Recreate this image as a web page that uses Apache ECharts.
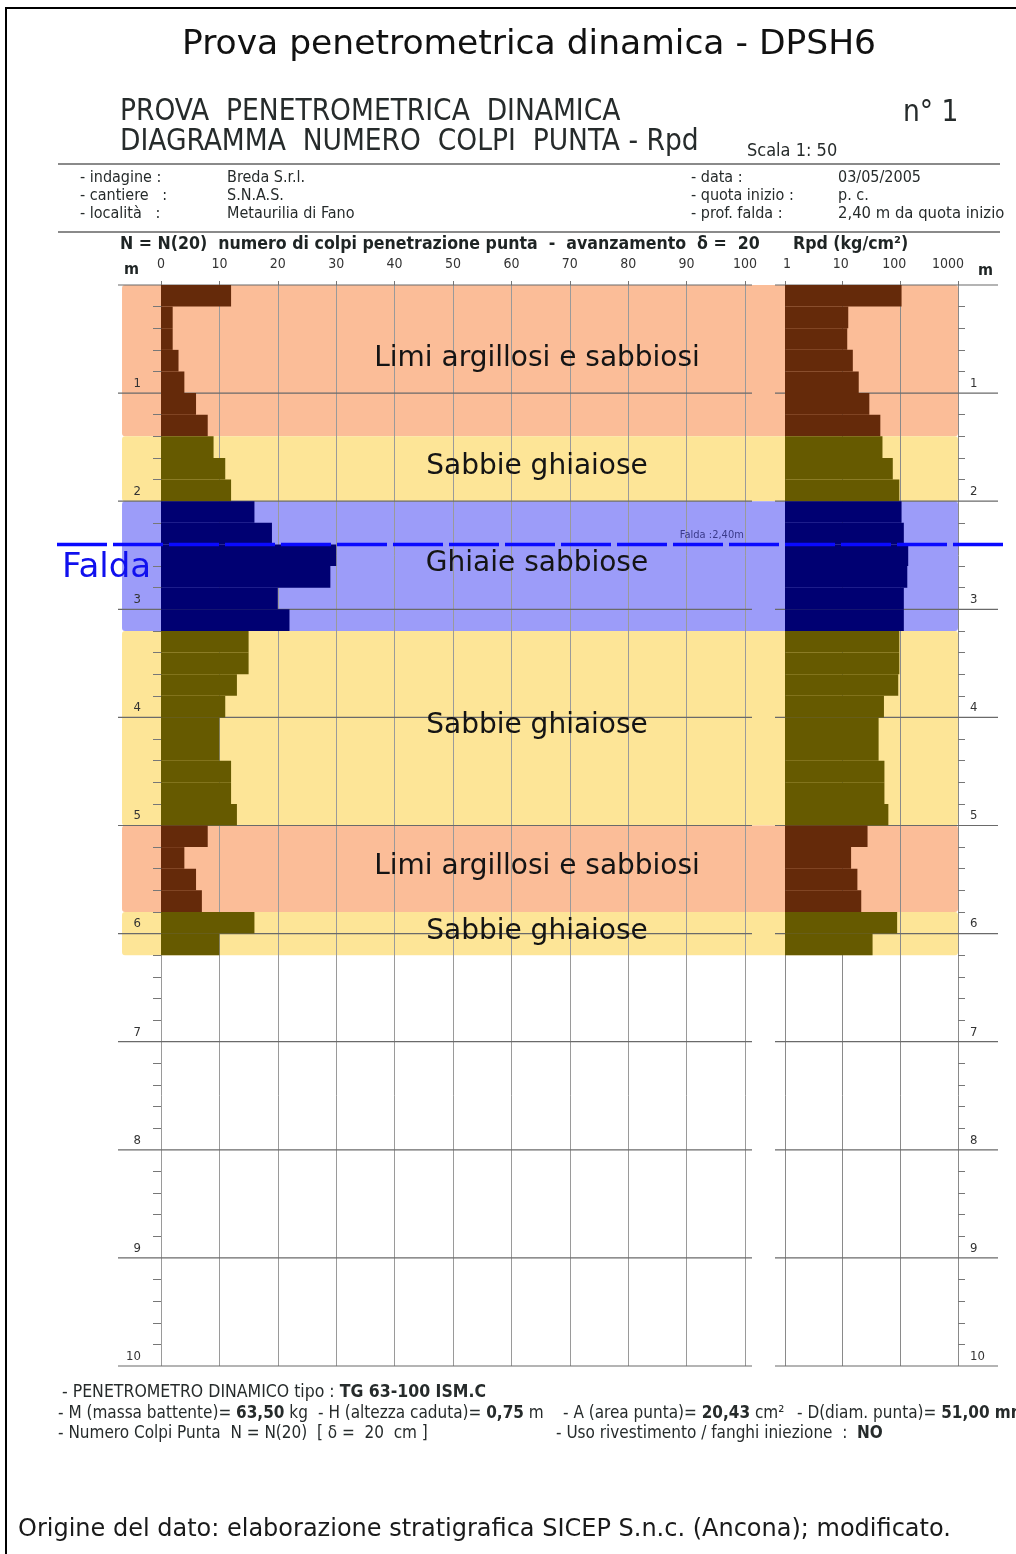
<!DOCTYPE html>
<html><head><meta charset="utf-8">
<script src="https://cdn.jsdelivr.net/npm/echarts@6/dist/echarts.min.js"></script>
<style>html,body{margin:0;padding:0;background:#fff}#c{width:1016px;height:1554px}</style>
</head><body><div id="c"></div>
<script>
// ---- data ----
const depthFrom = [0.0,0.2,0.4,0.6,0.8,1.0,1.2,1.4,1.6,1.8,2.0,2.2,2.4,2.6,2.8,3.0,3.2,3.4,3.6,3.8,4.0,4.2,4.4,4.6,4.8,5.0,5.2,5.4,5.6,5.8,6.0];
const depthTo   = [0.2,0.4,0.6,0.8,1.0,1.2,1.4,1.6,1.8,2.0,2.2,2.4,2.6,2.8,3.0,3.2,3.4,3.6,3.8,4.0,4.2,4.4,4.6,4.8,5.0,5.2,5.4,5.6,5.8,6.0,6.2];
const n20 = [12,2,2,3,4,6,8,9,11,12,16,19,30,29,20,22,15,15,13,11,10,10,12,12,13,8,4,6,7,16,10];
const rpd = [105,12.5,12,15,19,29,45,49,74,96,105,115,137,132,115,115,96,96,92,52,42,42,53,53,62,27,14,18,21,88,33];
const layerFrom = [0.0,1.4,2.0,3.2,5.0,5.8];
const layerTo   = [1.4,2.0,3.2,5.0,5.8,6.2];
const layerName = ["Limi argillosi e sabbiosi","Sabbie ghiaiose","Ghiaie sabbiose","Sabbie ghiaiose","Limi argillosi e sabbiosi","Sabbie ghiaiose"];
const layerKind = ["limo","sabbia","ghiaia","sabbia","limo","sabbia"];
const nTickLabels = ["0","10","20","30","40","50","60","70","80","90","100"];
const rpdTickLabels = ["1","10","100","1000"];
const depthTickLabels = ["1","2","3","4","5","6","7","8","9","10"];
const meterLines = [0,1,2,3,4,5,6,7,8,9,10];
const faldaDepth = 2.4;

// ---- styles ----
const NARROW = "'Liberation Sans Narrow','DejaVu Sans Condensed','Arial Narrow',sans-serif";
const SANS = "'DejaVu Sans',sans-serif";
const TXT = '#262b2b';
const bandColor = {limo:'#fbbd98', sabbia:'#fde597', ghiaia:'#9c9cf9'};
const barColor = {limo:'#652a0a', sabbia:'#665a00', ghiaia:'#000072'};

function layerOf(d){
  for (let i=0;i<layerFrom.length;i++){ if (d >= layerFrom[i]-1e-6 && d < layerTo[i]-1e-6) return i; }
  return 0;
}
const leftData = depthFrom.map((d,i)=>[d, depthTo[i], n20[i], layerOf(d)]);
const rightData = depthFrom.map((d,i)=>[d, depthTo[i], rpd[i], layerOf(d)]);
const bandData = layerFrom.map((d,i)=>[d, layerTo[i], i]);

const chart = echarts.init(document.getElementById('c'), null, {renderer:'canvas'});

function barRender(base){
  return function(params, api){
    const li = api.value(3);
    const p0 = api.coord([base, api.value(0)]);
    const p1 = api.coord([api.value(2), api.value(1)]);
    return {type:'rect', shape:{x:p0[0], y:p0[1], width:p1[0]-p0[0], height:p1[1]-p0[1]},
      style:{fill: barColor[layerKind[li]]}};
  };
}
function meterRender(xa, xb, ext0, ext1, color){
  return function(params, api){
    const m = api.value(0);
    const a = api.coord([xa, m]); const b = api.coord([xb, m]);
    return {type:'line', shape:{x1:a[0]-ext0, y1:a[1], x2:b[0]+ext1, y2:b[1]},
      style:{stroke: color, lineWidth: 1.2}};
  };
}

const axisLabelStyle = {fontFamily: NARROW, fontSize: 14, color: '#333'};
const HFONT = '29.5px ' + NARROW;
const IFONT = '16px ' + NARROW;
const BFONT = '17px ' + NARROW;
const BBOLD = 'bold 17px ' + NARROW;

const option = {
  backgroundColor: '#fff',
  animation: false,
  grid: [
    {left:161, right:271, top:285, bottom:188},
    {left:785, right:58, top:285, bottom:188},
    {left:57, right:11, top:285, bottom:188}
  ],
  xAxis: [
    {gridIndex:0, type:'value', position:'top', min:0, max:100, interval:10,
     axisLine:{show:false}, axisTick:{show:true, length:4, inside:false, lineStyle:{color:'#777'}},
     axisLabel:Object.assign({margin:14, formatter:v=>nTickLabels[Math.round(v/10)]}, axisLabelStyle),
     splitLine:{show:true, lineStyle:{color:'#9a9a9a', width:1}}},
    {gridIndex:1, type:'log', logBase:10, position:'top', min:1, max:1000,
     axisLine:{show:false}, axisTick:{show:true, length:4, lineStyle:{color:'#777'}},
     axisLabel:Object.assign({margin:14, align:'right', padding:[0,-6,0,0],
       formatter:v=>rpdTickLabels[Math.round(Math.log10(v))]}, axisLabelStyle),
     splitLine:{show:true, lineStyle:{color:'#8a8a8a', width:1}}},
    {gridIndex:2, type:'value', min:0, max:1, show:false}
  ],
  yAxis: [
    {gridIndex:0, type:'value', inverse:true, min:0, max:10, interval:1,
     axisLine:{show:false}, axisTick:{show:false},
     minorTick:{show:true, splitNumber:5, length:8, lineStyle:{color:'#777'}},
     axisLabel:Object.assign({margin:20, verticalAlign:'bottom', padding:[0,0,3,0],
       formatter:v=>(v===0?'':depthTickLabels[v-1])}, axisLabelStyle, {fontSize:13}),
     splitLine:{show:false}},
    {gridIndex:1, type:'value', inverse:true, min:0, max:10, interval:1, position:'right',
     axisLine:{show:false}, axisTick:{show:false},
     minorTick:{show:true, splitNumber:5, length:7, lineStyle:{color:'#777'}},
     axisLabel:Object.assign({margin:12, verticalAlign:'bottom', padding:[0,0,3,0],
       formatter:v=>(v===0?'':depthTickLabels[v-1])}, axisLabelStyle, {fontSize:13}),
     splitLine:{show:false}},
    {gridIndex:2, type:'value', inverse:true, min:0, max:10, show:false}
  ],
  series: [
    {type:'custom', name:'strati', xAxisIndex:2, yAxisIndex:2, z:-5, clip:false,
     data: bandData, encode:{y:[0,1]},
     renderItem:function(params, api){
       const i = api.value(2);
       const a = api.coord([0.0686, api.value(0)]);
       const b = api.coord([0.9504, api.value(1)]);
       return {type:'rect', shape:{x:a[0], y:a[1], width:b[0]-a[0], height:b[1]-a[1], r:3},
         style:{fill: bandColor[layerKind[i]]}};
     }},
    {type:'custom', name:'metriN', xAxisIndex:0, yAxisIndex:0, z:1, clip:false,
     data: meterLines.map(m=>[m]), encode:{y:0},
     renderItem: meterRender(0, 100, 43, 7, '#6a6a6a')},
    {type:'custom', name:'metriRpd', xAxisIndex:1, yAxisIndex:1, z:1, clip:false,
     data: meterLines.map(m=>[m]), encode:{y:0},
     renderItem: meterRender(1, 1000, 10, 40, '#6a6a6a')},
    {type:'custom', name:'N20', xAxisIndex:0, yAxisIndex:0, z:3,
     data: leftData, encode:{x:2, y:[0,1]}, renderItem: barRender(0)},
    {type:'custom', name:'Rpd', xAxisIndex:1, yAxisIndex:1, z:3,
     data: rightData, encode:{x:2, y:[0,1]}, renderItem: barRender(1)},
    {type:'custom', name:'falda', xAxisIndex:2, yAxisIndex:2, z:6, clip:false,
     data: [[faldaDepth]], encode:{y:0},
     renderItem:function(params, api){
       const a = api.coord([0, api.value(0)]);
       const b = api.coord([1, api.value(0)]);
       const t = api.coord([0.657, api.value(0)]);
       return {type:'group', children:[
         {type:'line', shape:{x1:a[0], y1:a[1], x2:b[0], y2:b[1]},
          style:{stroke:'#0a0aff', lineWidth:3.5, lineDash:[50,6]}},
         {type:'text', x:a[0]+5, y:a[1]+7,
          style:{text:'Falda', fill:'#1010ee', font:'34px '+SANS, textVerticalAlign:'top'}},
         {type:'text', x:t[0], y:t[1]-4,
          style:{text:'Falda :2,40m', fill:'#3a3a8a', font:'11px '+NARROW, textVerticalAlign:'bottom'}}
       ]};
     }},
    {type:'custom', name:'nomiStrati', xAxisIndex:2, yAxisIndex:2, z:7, clip:false,
     data: bandData, encode:{y:[0,1]},
     renderItem:function(params, api){
       const i = api.value(2);
       const a = api.coord([0.0686, api.value(0)]);
       const b = api.coord([0.9504, api.value(1)]);
       return {type:'text', x:(a[0]+b[0])/2 - 3, y:(a[1]+b[1])/2 - 2,
         style:{text: layerName[i], fill:'#141414', font:'28px '+SANS,
           textAlign:'center', textVerticalAlign:'middle'}};
     }}
  ],
  graphic: [
    {type:'rect', shape:{x:6, y:8, width:1030, height:1570}, style:{fill:'none', stroke:'#000', lineWidth:2}, z:100},
    {type:'text', x:529, y:45, style:{text:'Prova penetrometrica dinamica - DPSH6', font:'34.5px '+SANS, fill:'#111', textAlign:'center', textVerticalAlign:'middle'}},
    {type:'text', x:120, y:112, style:{text:'PROVA  PENETROMETRICA  DINAMICA', font:HFONT, fill:TXT, textVerticalAlign:'middle'}},
    {type:'text', x:903, y:113, style:{text:'n° 1', font:HFONT, fill:TXT, textVerticalAlign:'middle'}},
    {type:'text', x:120, y:142, style:{text:'DIAGRAMMA  NUMERO  COLPI  PUNTA - Rpd', font:HFONT, fill:TXT, textVerticalAlign:'middle'}},
    {type:'text', x:747, y:151, style:{text:'Scala 1: 50', font:'18px '+NARROW, fill:TXT, textVerticalAlign:'middle'}},
    {type:'line', shape:{x1:58, y1:164, x2:1000, y2:164}, style:{stroke:'#8a8a8a', lineWidth:2}},
    {type:'text', x:80, y:178, style:{text:'- indagine :', font:IFONT, fill:TXT, textVerticalAlign:'middle'}},
    {type:'text', x:80, y:196, style:{text:'- cantiere   :', font:IFONT, fill:TXT, textVerticalAlign:'middle'}},
    {type:'text', x:80, y:214, style:{text:'- località   :', font:IFONT, fill:TXT, textVerticalAlign:'middle'}},
    {type:'text', x:227, y:178, style:{text:'Breda S.r.l.', font:IFONT, fill:TXT, textVerticalAlign:'middle'}},
    {type:'text', x:227, y:196, style:{text:'S.N.A.S.', font:IFONT, fill:TXT, textVerticalAlign:'middle'}},
    {type:'text', x:227, y:214, style:{text:'Metaurilia di Fano', font:IFONT, fill:TXT, textVerticalAlign:'middle'}},
    {type:'text', x:691, y:178, style:{text:'- data :', font:IFONT, fill:TXT, textVerticalAlign:'middle'}},
    {type:'text', x:691, y:196, style:{text:'- quota inizio :', font:IFONT, fill:TXT, textVerticalAlign:'middle'}},
    {type:'text', x:691, y:214, style:{text:'- prof. falda :', font:IFONT, fill:TXT, textVerticalAlign:'middle'}},
    {type:'text', x:838, y:178, style:{text:'03/05/2005', font:IFONT, fill:TXT, textVerticalAlign:'middle'}},
    {type:'text', x:838, y:196, style:{text:'p. c.', font:IFONT, fill:TXT, textVerticalAlign:'middle'}},
    {type:'text', x:838, y:214, style:{text:'2,40 m da quota inizio', font:'16.5px '+NARROW, fill:TXT, textVerticalAlign:'middle'}},
    {type:'line', shape:{x1:58, y1:232, x2:1000, y2:232}, style:{stroke:'#8a8a8a', lineWidth:2}},
    {type:'text', x:120, y:244, style:{text:'N = N(20)  numero di colpi penetrazione punta  -  avanzamento  \u03b4 =  20', font:'bold 17.6px '+NARROW, fill:'#1e2424', textVerticalAlign:'middle'}},
    {type:'text', x:793, y:244, style:{text:'Rpd (kg/cm\u00b2)', font:'bold 17.6px '+NARROW, fill:'#1e2424', textVerticalAlign:'middle'}},
    {type:'text', x:124, y:270, style:{text:'m', font:'bold 16px '+NARROW, fill:'#1e2424', textVerticalAlign:'middle'}},
    {type:'text', x:978, y:271, style:{text:'m', font:'bold 16px '+NARROW, fill:'#1e2424', textVerticalAlign:'middle'}},
    {type:'text', x:62, y:1392, style:{text:'- PENETROMETRO DINAMICO tipo : {b|TG 63-100 ISM.C}', font:'17.5px '+NARROW, fill:TXT, textVerticalAlign:'middle',
      rich:{b:{font:'bold 17.5px '+NARROW, fill:TXT}}}},
    {type:'text', x:58, y:1414, style:{text:'- M (massa battente)= {b|63,50} kg', font:BFONT, fill:TXT, textVerticalAlign:'middle', rich:{b:{font:BBOLD, fill:TXT}}}},
    {type:'text', x:318, y:1414, style:{text:'- H (altezza caduta)= {b|0,75} m', font:BFONT, fill:TXT, textVerticalAlign:'middle', rich:{b:{font:BBOLD, fill:TXT}}}},
    {type:'text', x:563, y:1414, style:{text:'- A (area punta)= {b|20,43} cm\u00b2', font:BFONT, fill:TXT, textVerticalAlign:'middle', rich:{b:{font:BBOLD, fill:TXT}}}},
    {type:'text', x:797, y:1414, style:{text:'- D(diam. punta)= {b|51,00 mm}', font:BFONT, fill:TXT, textVerticalAlign:'middle', rich:{b:{font:BBOLD, fill:TXT}}}},
    {type:'text', x:58, y:1434, style:{text:'- Numero Colpi Punta  N = N(20)  [ \u03b4 =  20  cm ]', font:BFONT, fill:TXT, textVerticalAlign:'middle'}},
    {type:'text', x:556, y:1434, style:{text:'- Uso rivestimento / fanghi iniezione  :  {b|NO}', font:BFONT, fill:TXT, textVerticalAlign:'middle', rich:{b:{font:BBOLD, fill:TXT}}}},
    {type:'text', x:18, y:1530, style:{text:'Origine del dato: elaborazione stratigrafica SICEP S.n.c. (Ancona); modificato.', font:'24px '+SANS, fill:'#1a1a1a', textVerticalAlign:'middle'}}
  ]
};
chart.setOption(option);
</script>
</body></html>
